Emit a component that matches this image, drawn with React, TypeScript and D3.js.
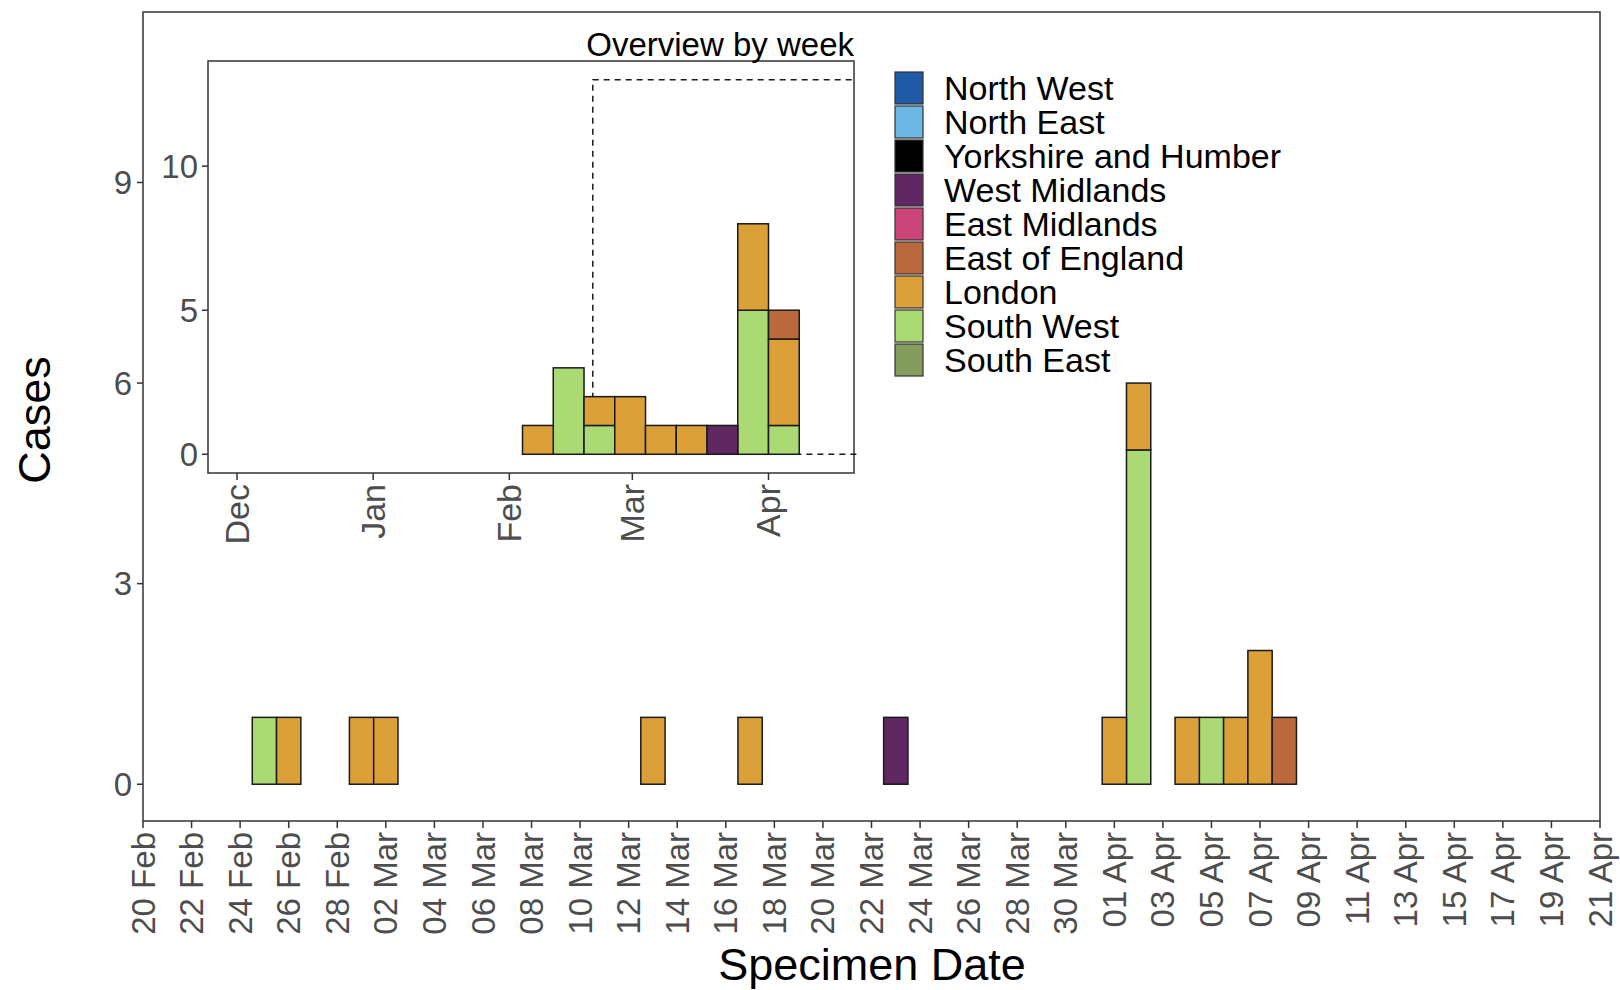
import React from 'react';
import * as d3 from 'd3';

const regions = ['North West', 'North East', 'Yorkshire and Humber', 'West Midlands', 'East Midlands', 'East of England', 'London', 'South West', 'South East'];
const regionColors = ['#1f5aa6', '#6bb7e6', '#000000', '#5f2862', '#cc4578', '#b9693b', '#dca038', '#abd973', '#849c5c'];

// daily cases (main panel)
const dailyDates = ['2019-02-25', '2019-02-26', '2019-03-01', '2019-03-02', '2019-03-13', '2019-03-17', '2019-03-23', '2019-04-01', '2019-04-02', '2019-04-04', '2019-04-05', '2019-04-06', '2019-04-07', '2019-04-08'];
const dailyLondon = [0, 1, 1, 1, 1, 1, 0, 1, 1, 1, 0, 1, 2, 0];
const dailySouthWest = [1, 0, 0, 0, 0, 0, 0, 0, 5, 0, 1, 0, 0, 0];
const dailyWestMidlands = [0, 0, 0, 0, 0, 0, 1, 0, 0, 0, 0, 0, 0, 0];
const dailyEastEngland = [0, 0, 0, 0, 0, 0, 0, 0, 0, 0, 0, 0, 0, 1];

// weekly cases (inset), week start dates
const weekStarts = ['2019-02-04', '2019-02-11', '2019-02-18', '2019-02-25', '2019-03-04', '2019-03-11', '2019-03-18', '2019-03-25', '2019-04-01'];
const weekLondon = [1, 0, 1, 2, 1, 1, 0, 3, 3];
const weekSouthWest = [0, 3, 1, 0, 0, 0, 0, 5, 1];
const weekWestMidlands = [0, 0, 0, 0, 0, 0, 1, 0, 0];
const weekEastEngland = [0, 0, 0, 0, 0, 0, 0, 0, 1];

const mainTickDates = ['2019-02-20', '2019-02-22', '2019-02-24', '2019-02-26', '2019-02-28', '2019-03-02', '2019-03-04', '2019-03-06', '2019-03-08', '2019-03-10', '2019-03-12', '2019-03-14', '2019-03-16', '2019-03-18', '2019-03-20', '2019-03-22', '2019-03-24', '2019-03-26', '2019-03-28', '2019-03-30', '2019-04-01', '2019-04-03', '2019-04-05', '2019-04-07', '2019-04-09', '2019-04-11', '2019-04-13', '2019-04-15', '2019-04-17', '2019-04-19', '2019-04-21'];
const mainYTicks = [0, 3, 6, 9];
const insetTickDates = ['2018-12-01', '2019-01-01', '2019-02-01', '2019-03-01', '2019-04-01'];
const insetYTicks = [0, 5, 10];

const parse = d3.timeParse('%Y-%m-%d');
const font = 'Liberation Sans, Arial, sans-serif';
const DAY = 86400000;

function rows(dates: string[], lon: number[], sw: number[], wm: number[], ee: number[]) {
  return dates.map((d, i) => {
    const r: any = { date: parse(d) };
    regions.forEach(k => (r[k] = 0));
    r['London'] = lon[i];
    r['South West'] = sw[i];
    r['West Midlands'] = wm[i];
    r['East of England'] = ee[i];
    return r;
  });
}

export default function App() {
  const color = d3.scaleOrdinal<string, string>().domain(regions).range(regionColors);
  const stack = d3.stack<any>().keys([...regions].reverse());

  // main scales
  const x = d3.scaleTime().domain([parse('2019-02-20')!, parse('2019-04-21')!]).range([143, 1600]);
  const y = d3.scaleLinear().domain([-0.55, 11.55]).range([821, 12]);
  const mainSeries = stack(rows(dailyDates, dailyLondon, dailySouthWest, dailyWestMidlands, dailyEastEngland));

  // inset scales
  const xi = d3.scaleTime().domain([parse('2018-12-01')!, parse('2019-04-01')!]).range([237, 768.5]);
  const yi = d3.scaleLinear().domain([-0.65, 13.65]).range([473, 61]);
  const insetSeries = stack(rows(weekStarts, weekLondon, weekSouthWest, weekWestMidlands, weekEastEngland));
  const win0 = xi(parse('2019-02-20')!), win1 = xi(parse('2019-04-21')!);

  const grey = '#4d4d4d';

  return (
    <svg width={1620} height={990} style={{ position: 'absolute', left: 0, top: 0, background: '#fff' }} fontFamily={font}>
      {/* main panel */}
      <rect x={143} y={12} width={1457} height={809} fill="#fff" stroke="#333" strokeWidth={1.5} />
      {mainSeries.map(s => (
        <g key={s.key}>
          {s.filter(d => d[1] > d[0]).map((d, i) => {
            const t = d.data.date.getTime();
            const x0 = x(new Date(t - DAY / 2)), x1 = x(new Date(t + DAY / 2));
            return <rect key={i} x={x0} width={x1 - x0} y={y(d[1])} height={y(d[0]) - y(d[1])}
              fill={color(s.key)} stroke="#1a1a1a" strokeWidth={1.5} />;
          })}
        </g>
      ))}
      {mainYTicks.map(v => (
        <g key={v}>
          <line x1={137} x2={143} y1={y(v)} y2={y(v)} stroke="#333" strokeWidth={1.5} />
          <text x={132} y={y(v)} dy="0.35em" textAnchor="end" fontSize={33} fill={grey}>{v}</text>
        </g>
      ))}
      {mainTickDates.map(s => {
        const d = parse(s)!;
        const px = x(d);
        return (
          <g key={s}>
            <line x1={px} x2={px} y1={821} y2={828} stroke="#333" strokeWidth={1.5} />
            <text transform={`translate(${px},832) rotate(-90)`} dy="0.35em" textAnchor="end" fontSize={33} fill={grey}>
              {d3.timeFormat('%d %b')(d)}
            </text>
          </g>
        );
      })}
      <text transform="translate(50,420) rotate(-90)" textAnchor="middle" fontSize={45}>Cases</text>
      <text x={872} y={980} textAnchor="middle" fontSize={45}>Specimen Date</text>

      {/* inset */}
      <rect x={208} y={61} width={646} height={412} fill="#fff" stroke="#333" strokeWidth={1.5} />
      <path d={`M${win1},${yi(0)}H${win0}V${yi(13)}H${win1}`} fill="none" stroke="#1a1a1a" strokeWidth={1.5} strokeDasharray="6,5" />
      {insetSeries.map(s => (
        <g key={s.key}>
          {s.filter(d => d[1] > d[0]).map((d, i) => {
            const t = d.data.date.getTime();
            const x0 = xi(new Date(t)), x1 = xi(new Date(t + 7 * DAY));
            return <rect key={i} x={x0} width={x1 - x0} y={yi(d[1])} height={yi(d[0]) - yi(d[1])}
              fill={color(s.key)} stroke="#1a1a1a" strokeWidth={1.5} />;
          })}
        </g>
      ))}
      {insetYTicks.map(v => (
        <g key={v}>
          <line x1={202} x2={208} y1={yi(v)} y2={yi(v)} stroke="#333" strokeWidth={1.5} />
          <text x={198} y={yi(v)} dy="0.35em" textAnchor="end" fontSize={33} fill={grey}>{v}</text>
        </g>
      ))}
      {insetTickDates.map(s => {
        const d = parse(s)!;
        const px = xi(d);
        return (
          <g key={s}>
            <line x1={px} x2={px} y1={473} y2={480} stroke="#333" strokeWidth={1.5} />
            <text transform={`translate(${px},484) rotate(-90)`} dy="0.35em" textAnchor="end" fontSize={34} fill={grey}>
              {d3.timeFormat('%b')(d)}
            </text>
          </g>
        );
      })}
      <text x={854} y={56} textAnchor="end" fontSize={33}>Overview by week</text>

      {/* legend */}
      {regions.map((r, i) => (
        <g key={r} transform={`translate(895,${72 + i * 34})`}>
          <rect x={0} y={0} width={28} height={32} fill={color(r)} stroke="#333" strokeWidth={1.2} />
          <text x={49} y={16} dy="0.35em" fontSize={34}>{r}</text>
        </g>
      ))}
    </svg>
  );
}
